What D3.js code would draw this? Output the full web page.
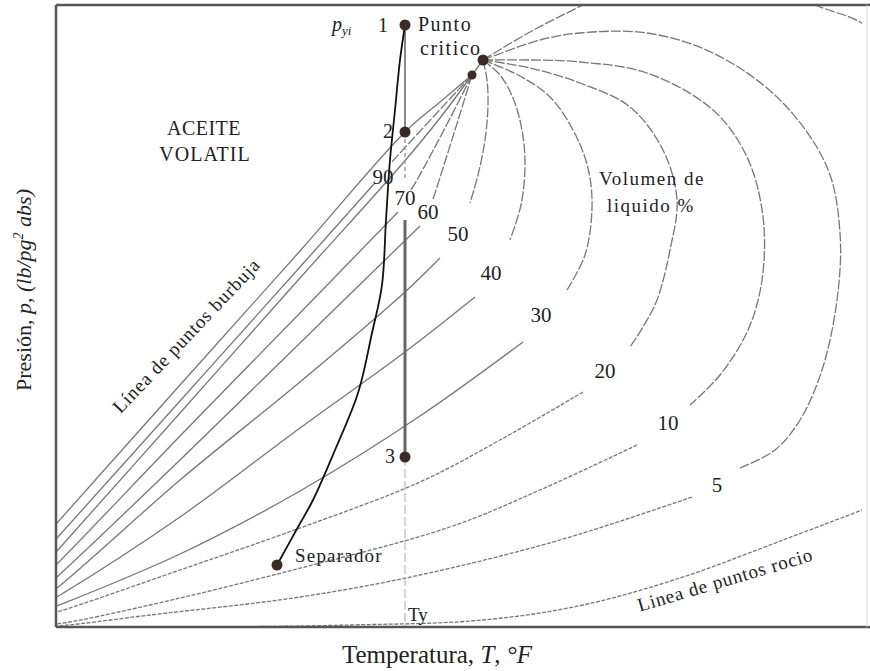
<!DOCTYPE html>
<html lang="es">
<head>
  <meta charset="UTF-8">
  <title>Diagrama de fases - aceite volatil</title>
  <script src="https://d3js.org/d3.v7.min.js"></script>
  <style>
    body { margin: 0; background: #fff; }
    text { font-family: "Liberation Serif", "DejaVu Serif", serif; fill: #222; }
    .frame { stroke: #555; stroke-width: 2.5; fill: none; }
    .q { fill: none; stroke: #777; stroke-width: 1.3; }
    .q.dash { stroke-dasharray: 10 2; }
    .q.fine { stroke-dasharray: 4 1.5; }
  </style>
</head>
<body>
<script>
  // Units: T and p (linear units, origin at lower-left corner)
  const critical = [427, 567];
  const critical2 = [416, 552];
  const Ty = 349;
  const pts = [[349, 602], [349, 495], [349, 170]];   // points 1, 2, 3 at Ty
  const separator = [221, 62];

  // quality (liquid volume %) lines: upper part from the critical point, lower part to the origin
  const q100 = [[416,552],[384,525],[349,495],[244,376],[124,242],[1,104],[-36,62]];
  const q90up = [[416,552],[379,512],[344,474],[335,464]];
  const q90lo = [[318,443],[244,360],[124,226],[1,89],[-36,47]];
  const q80 = [[416,552],[384,509],[347,464],[244,349],[124,214],[1,76],[-36,34]];
  const q70up = [[416,552],[389,499],[361,447],[355,437]];
  const q70lo = [[342,415],[244,314],[124,191],[1,63],[-36,27]];
  const q60up = [[416,552],[399,497],[380,437],[377,428]];
  const q60lo = [[364,401],[244,284],[124,167],[1,50],[-36,17]];
  const q50up = [[427,567],[431,547],[432,522],[429,487],[422,452],[414,424]];
  const q50lo = [[384,369],[349,335],[244,245],[124,147],[1,39],[-36,12]];
  const q40up = [[427,567],[444,552],[457,529],[466,497],[469,462],[465,422],[454,387]];
  const q40lo = [[419,330],[349,275],[244,199],[124,110],[1,30],[-36,9]];
  const q30up = [[427,567],[464,551],[494,530],[517,497],[532,459],[536,419],[529,372],[511,337]];
  const q30lo = [[467,285],[364,211],[244,136],[124,73],[1,21],[-36,7]];
  const q20up = [[427,567],[474,559],[524,544],[574,520],[607,477],[621,427],[614,377],[601,327],[587,300],[574,280]];
  const q20lo = [[527,235],[444,187],[364,145],[244,99],[124,57],[1,15],[-36,5]];
  const q10up = [[427,567],[474,567],[524,565],[591,554],[657,517],[691,470],[707,410],[706,347],[692,297],[664,252],[634,222]];
  const q10lo = [[581,182],[484,137],[394,100],[237,57],[94,22],[1,3],[-36,0]];
  const q5up = [[427,567],[484,587],[524,594],[591,594],[657,574],[724,527],[771,460],[784,394],[781,327],[766,257],[744,207],[719,177],[684,159]];
  const q5lo = [[636,130],[504,87],[364,52],[244,30],[94,12],[1,1],[-36,0]];
  const q0up = [[427,567],[474,595],[527,622],[584,649],[664,659],[734,637],[757,623],[804,605],[824,587]];
  const q0lo = [[824,124],[806,117],[727,87],[627,50],[527,22],[427,7],[294,2],[144,0],[0,0]];

  const qualityLabels = ["90", "70", "60", "50", "40", "30", "20", "10", "5"];
  const labelAt = [[327,450],[349,429],[372,415],[402,393],[435,354],[485,312],[549,256],[612,204],[661,142]];

  // separator path (black), from point 1 down to the separator
  const sepPath = [[349,602],[344,567],[339,517],[334,467],[330,407],[326,342],[316,294],[302,234],[279,177],[257,127],[242,100],[221,62]];

  const W = 870, H = 671;
  const x = d3.scaleLinear().domain([0, 812]).range([56, 868]);
  const y = d3.scaleLinear().domain([0, 622]).range([627, 5]);

  const svg = d3.select("body").append("svg").attr("width", W).attr("height", H);

  svg.append("defs").append("clipPath").attr("id", "plot")
    .append("rect").attr("x", 57).attr("y", 6).attr("width", 805).attr("height", 620);

  const line = d3.line()
    .x(d => x(d[0]))
    .y(d => y(d[1]))
    .curve(d3.curveCatmullRom.alpha(0.5));

  const g = svg.append("g").attr("clip-path", "url(#plot)");

  const solid = [q100, q90lo, q80, q70lo, q60lo, q50lo, q40lo, q30lo];
  const dashed = [q90up, q70up, q60up, q50up, q40up, q30up, q20up, q10up, q5up, q0up];
  const fine = [q20lo, q10lo, q5lo, q0lo];

  g.selectAll(".qs").data(solid).join("path").attr("class", "q").attr("d", line);
  g.selectAll(".qd").data(dashed).join("path").attr("class", "q dash").attr("d", line);
  g.selectAll(".qf").data(fine).join("path").attr("class", "q fine").attr("d", line);

  // link between the two critical dots
  g.append("path").attr("class", "q").attr("stroke-width", 2.5).attr("d", line([critical2, critical]));

  // Ty vertical line
  const vx = x(Ty);
  g.append("line").attr("x1", vx).attr("x2", vx).attr("y1", y(pts[0][1])).attr("y2", y(pts[1][1]))
    .attr("stroke", "#888").attr("stroke-width", 2);
  g.append("line").attr("x1", vx).attr("x2", vx).attr("y1", y(pts[1][1])).attr("y2", y(449))
    .attr("stroke", "#999").attr("stroke-width", 1.4).attr("stroke-dasharray", "4 3");
  g.append("line").attr("x1", vx).attr("x2", vx).attr("y1", y(407)).attr("y2", y(pts[2][1]))
    .attr("stroke", "#666").attr("stroke-width", 3);
  g.append("line").attr("x1", vx).attr("x2", vx).attr("y1", y(pts[2][1])).attr("y2", y(0))
    .attr("stroke", "#aaa").attr("stroke-width", 1).attr("stroke-dasharray", "9 3");

  // separator path
  g.append("path").attr("d", line(sepPath)).attr("fill", "none")
    .attr("stroke", "#111").attr("stroke-width", 1.8);

  // frame
  svg.append("path").attr("class", "frame")
    .attr("d", `M${x(0)},${y(622)} V${y(0)} M${x(0)},${y(622)} H870 M${x(0)},${y(0)} H870`);
  svg.append("line").attr("x1", 867).attr("x2", 867).attr("y1", y(622)).attr("y2", y(0))
    .attr("stroke", "#ddd").attr("stroke-width", 1);

  // dots
  const dots = [...pts, separator, critical, critical2];
  svg.selectAll(".dot").data(dots).join("circle")
    .attr("cx", d => x(d[0])).attr("cy", d => y(d[1]))
    .attr("r", (d, i) => i === 5 ? 4.5 : 5.5)
    .attr("fill", "#3b2b26");

  // quality labels
  svg.selectAll(".ql").data(qualityLabels).join("text")
    .attr("x", (d, i) => x(labelAt[i][0])).attr("y", (d, i) => y(labelAt[i][1]))
    .attr("text-anchor", "middle").attr("dominant-baseline", "central")
    .attr("font-size", 21).text(d => d);

  const txt = (t, px, py, opts = {}) => {
    const el = svg.append("text").attr("x", px).attr("y", py)
      .attr("font-size", opts.size || 19)
      .attr("letter-spacing", opts.ls || 0)
      .attr("text-anchor", opts.anchor || "start");
    if (opts.rotate) el.attr("transform", `rotate(${opts.rotate},${px},${py})`);
    if (opts.italic) el.attr("font-style", "italic");
    el.text(t);
    return el;
  };

  txt("ACEITE", 204, 135, { anchor: "middle", size: 20, ls: 0.5 });
  txt("VOLATIL", 205, 161, { anchor: "middle", size: 20, ls: 1 });
  txt("Volumen de", 652, 185, { anchor: "middle", size: 19, ls: 1.5 });
  txt("liquido %", 651, 212, { anchor: "middle", size: 19, ls: 1.5 });
  txt("Punto", 418, 31, { size: 20, ls: 1.5 });
  txt("critico", 420, 55, { size: 20, ls: 1.5 });
  txt("1", 388, 32, { anchor: "end", size: 20 });
  txt("2", 393, 138, { anchor: "end", size: 20 });
  txt("3", 395, 463, { anchor: "end", size: 20 });
  txt("Separador", 295, 562, { size: 19, ls: 1.2 });
  txt("Ty", 408, 621, { size: 19 });

  const pyi = svg.append("text").attr("x", 332).attr("y", 31).attr("font-size", 20).attr("font-style", "italic");
  pyi.append("tspan").text("p");
  pyi.append("tspan").attr("font-size", 13).attr("dy", 4).text("yi");

  txt("Línea de puntos burbuja", 191, 340, { anchor: "middle", size: 19, ls: 0.9, rotate: -46.5 });
  txt("Linea de puntos rocio", 727, 586, { anchor: "middle", size: 19, ls: 0.8, rotate: -16.5 });

  // axis titles
  const xt = svg.append("text").attr("x", 437).attr("y", 663).attr("text-anchor", "middle").attr("font-size", 25);
  xt.append("tspan").text("Temperatura, ");
  xt.append("tspan").attr("font-style", "italic").text("T");
  xt.append("tspan").text(", ");
  xt.append("tspan").attr("font-style", "italic").text("°F");

  const yt = svg.append("text").attr("transform", "translate(31,290) rotate(-90)")
    .attr("text-anchor", "middle").attr("font-size", 22);
  yt.append("tspan").text("Presión, ");
  yt.append("tspan").attr("font-style", "italic").text("p");
  yt.append("tspan").text(", ");
  yt.append("tspan").attr("font-style", "italic").text("(lb/pg");
  yt.append("tspan").attr("font-style", "italic").attr("font-size", 14).attr("dy", -8).text("2");
  yt.append("tspan").attr("font-style", "italic").attr("dy", 8).text(" abs)");
</script>
</body>
</html>
